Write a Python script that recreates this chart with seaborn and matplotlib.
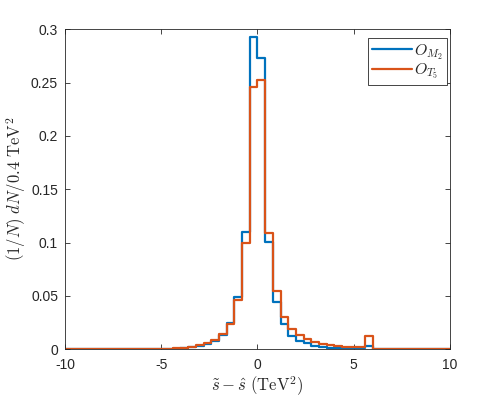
import numpy as np
import pandas as pd
import seaborn as sns
import matplotlib.pyplot as plt
from matplotlib.lines import Line2D
from matplotlib.ticker import FuncFormatter

# bin edges: -10 .. 10, width 0.4 TeV^2
bin_edges = np.round(np.arange(-10, 10.0001, 0.4), 2)
bin_centers = (bin_edges[:-1] + bin_edges[1:]) / 2

# normalised counts per bin
h_m2 = [0.0001, 0.0001, 0.0001, 0.0001, 0.0001, 0.0001, 0.0001, 0.0001, 0.0002, 0.0002,
        0.0002, 0.0003, 0.0003, 0.0005, 0.0007, 0.0010, 0.0018, 0.0030, 0.0048, 0.0075,
        0.0130, 0.0250, 0.0493, 0.1100, 0.2925, 0.2728, 0.1010, 0.0446, 0.0234, 0.0128,
        0.0081, 0.0056, 0.0034, 0.0025, 0.0016, 0.0012, 0.0010, 0.0010, 0.0009, 0.0030,
        0, 0, 0, 0, 0, 0, 0, 0, 0, 0]
h_t5 = [0.0001, 0.0001, 0.0001, 0.0001, 0.0002, 0.0002, 0.0002, 0.0002, 0.0003, 0.0003,
        0.0004, 0.0004, 0.0005, 0.0007, 0.0009, 0.0012, 0.0025, 0.0040, 0.0060, 0.0085,
        0.0140, 0.0240, 0.0460, 0.0994, 0.2460, 0.2520, 0.1088, 0.0550, 0.0306, 0.0190,
        0.0134, 0.0094, 0.0066, 0.0050, 0.0036, 0.0030, 0.0026, 0.0024, 0.0020, 0.0125,
        0, 0, 0, 0, 0, 0, 0, 0, 0, 0]

series_names = [r"$O_{M_2}$", r"$O_{T_5}$"]
colors = ["#0072BD", "#D95319"]

sns.set_style("ticks")
plt.rcParams["font.family"] = ["Liberation Sans", "DejaVu Sans"]
plt.rcParams["mathtext.fontset"] = "cm"
plt.rcParams["xtick.direction"] = "in"
plt.rcParams["ytick.direction"] = "in"

fig, ax = plt.subplots(figsize=(4.98, 3.99), dpi=100)
fig.subplots_adjust(left=0.1305, right=0.9036, top=0.9266, bottom=0.1246)

for heights, name, col in zip([h_m2, h_t5], series_names, colors):
    df = pd.DataFrame({"x": bin_centers, "w": heights})
    sns.histplot(data=df, x="x", weights="w", binwidth=0.4, binrange=(-10, 10),
                 element="step", fill=False, color=col, linewidth=1.6, ax=ax)

ax.set_xlim(-10, 10)
ax.set_ylim(0, 0.3)
ax.set_xticks([-10, -5, 0, 5, 10])
ax.set_yticks(np.arange(0, 0.301, 0.05))
ax.yaxis.set_major_formatter(FuncFormatter(lambda v, p: "%g" % round(v, 2)))
ax.xaxis.set_major_formatter(FuncFormatter(lambda v, p: "%g" % v))
ax.tick_params(top=True, right=True, length=3.5, width=0.6, color="#262626",
               labelsize=10, labelcolor="#262626")
ax.tick_params(axis="x", pad=6)
ax.tick_params(axis="y", pad=5)
for s in ax.spines.values():
    s.set_linewidth(0.6)
    s.set_color("#262626")

ax.set_xlabel(r"$\tilde{s} - \hat{s}\ (\mathrm{TeV}^2)$", fontsize=12, color="#262626",
              labelpad=2)
ax.set_ylabel(r"$(1/N)\ dN/0.4\ \mathrm{TeV}^2$", fontsize=12, color="#262626",
              labelpad=2)

handles = [Line2D([], [], color=c, lw=1.6) for c in colors]
leg = ax.legend(handles, series_names, loc="upper right", bbox_to_anchor=(0.992, 0.973),
                borderaxespad=0, fontsize=11.5, fancybox=False, framealpha=1,
                edgecolor="#262626", handlelength=2.5, labelspacing=0.0,
                handletextpad=0.15, borderpad=0.25)
leg.get_frame().set_linewidth(0.6)

fig.savefig("out.png", dpi=100)
